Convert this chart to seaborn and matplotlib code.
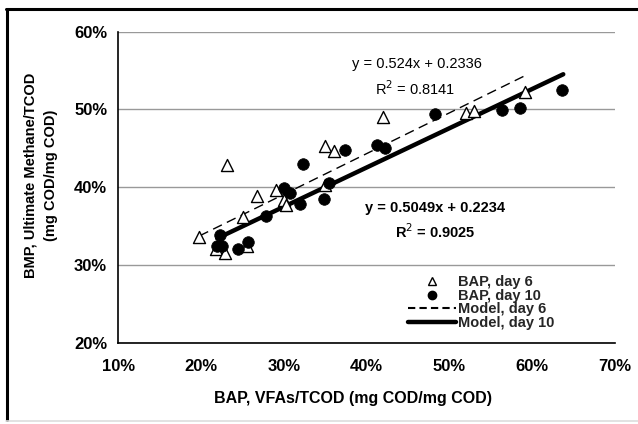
import numpy as np
import pandas as pd
import matplotlib
matplotlib.use("Agg")
import matplotlib.pyplot as plt
import seaborn as sns
from matplotlib.ticker import PercentFormatter, MultipleLocator
from matplotlib.lines import Line2D

# ---- data (fractions of TCOD) ----
day6_x = [0.197, 0.218, 0.229, 0.231, 0.251, 0.256, 0.268, 0.290, 0.300, 0.302, 0.350, 0.350, 0.360, 0.420, 0.520, 0.530, 0.591]
day6_y = [0.336, 0.320, 0.316, 0.428, 0.362, 0.325, 0.389, 0.396, 0.384, 0.377, 0.453, 0.403, 0.447, 0.490, 0.496, 0.498, 0.523]
day10_x = [0.223, 0.219, 0.225, 0.245, 0.257, 0.279, 0.300, 0.308, 0.319, 0.323, 0.349, 0.354, 0.374, 0.412, 0.422, 0.482, 0.563, 0.585, 0.636]
day10_y = [0.339, 0.324, 0.324, 0.320, 0.329, 0.363, 0.399, 0.392, 0.379, 0.430, 0.385, 0.405, 0.448, 0.454, 0.450, 0.494, 0.499, 0.502, 0.525]

model6_slope, model6_icpt = 0.524, 0.2336
model10_slope, model10_icpt = 0.5049, 0.2234
model6_xrange = [0.198, 0.591]
model10_xrange = [0.2195, 0.6375]

eq6_text = ["y = 0.524x + 0.2336", "R$^2$ = 0.8141"]
eq10_text = ["y = 0.5049x + 0.2234", "R$^2$ = 0.9025"]
legend_labels = ["BAP, day 6", "BAP, day 10", "Model, day 6", "Model, day 10"]
x_label = "BAP, VFAs/TCOD (mg COD/mg COD)"
y_label_lines = ["BMP, Ultimate Methane/TCOD", "(mg COD/mg COD)"]

sns.set_theme(style="white")
plt.rcParams['font.family'] = ['Liberation Sans', 'DejaVu Sans']

fig = plt.figure(figsize=(6.38, 4.24), dpi=100)
W, H = 638, 424
ax = fig.add_axes([118.3 / W, 1 - 342.7 / H, (615 - 118.3) / W, (342.7 - 31.7) / H])

pts6 = pd.DataFrame({"x": day6_x, "y": day6_y})
pts10 = pd.DataFrame({"x": day10_x, "y": day10_y})
m6x = np.array(model6_xrange)
m10x = np.array(model10_xrange)
line6 = pd.DataFrame({"x": m6x, "y": model6_slope * m6x + model6_icpt})
line10 = pd.DataFrame({"x": m10x, "y": model10_slope * m10x + model10_icpt})

sns.lineplot(data=line6, x="x", y="y", ax=ax, color="black", lw=1.0,
             dashes=False, linestyle=(0, (7, 4)), zorder=3)
sns.lineplot(data=line10, x="x", y="y", ax=ax, color="black", lw=3.2, zorder=3)
sns.scatterplot(data=pts6, x="x", y="y", ax=ax, marker="^", s=75,
                facecolor="white", edgecolor="black", linewidth=1.0, zorder=4)
sns.scatterplot(data=pts10, x="x", y="y", ax=ax, marker="o", s=70,
                color="black", edgecolor="black", linewidth=0.5, zorder=5)

ax.set_xlim(0.10, 0.70)
ax.set_ylim(0.20, 0.60)
ax.xaxis.set_major_locator(MultipleLocator(0.10))
ax.yaxis.set_major_locator(MultipleLocator(0.10))
ax.xaxis.set_major_formatter(PercentFormatter(1.0, decimals=0))
ax.yaxis.set_major_formatter(PercentFormatter(1.0, decimals=0))
ax.set_xlabel("")
ax.set_ylabel("")

ax.yaxis.grid(True, color="#999999", lw=1.0)
ax.xaxis.grid(False)
ax.set_axisbelow(True)
for s in ["top", "right"]:
    ax.spines[s].set_visible(False)
for s in ["left", "bottom"]:
    ax.spines[s].set_color("black")
    ax.spines[s].set_linewidth(1.2)

ax.tick_params(axis="both", which="major", direction="out", length=4, width=1.0,
               color="black", labelcolor="black")
ax.tick_params(axis="x", pad=8)
ax.tick_params(axis="y", pad=4)
for lab in ax.get_xticklabels() + ax.get_yticklabels():
    lab.set_fontweight("bold")
    lab.set_fontsize(12)

# equations
ax.text(0.461, 0.559, eq6_text[0], ha="center", va="center", fontsize=10.5, color="black")
ax.text(0.459, 0.527, eq6_text[1], ha="center", va="center", fontsize=10.5, color="black")
ax.text(0.483, 0.373, eq10_text[0], ha="center", va="center", fontsize=10.5,
        fontweight="bold", color="black")
ax.text(0.483, 0.343, eq10_text[1], ha="center", va="center", fontsize=10.5,
        fontweight="bold", color="black")

# legend
handles = [
    Line2D([], [], marker="^", ls="none", markerfacecolor="white", markeredgecolor="black", markersize=6),
    Line2D([], [], marker="o", ls="none", color="black", markersize=6),
    Line2D([], [], color="black", lw=1.5, linestyle=(0, (3.5, 2))),
    Line2D([], [], color="black", lw=3.2),
]
leg = ax.legend(handles, legend_labels, loc="upper left",
                bbox_to_anchor=((408 - 118.3) / (615 - 118.3), 1 - (275 - 31.7) / 311),
                frameon=False, prop={"weight": "bold", "size": 10.5},
                handlelength=3.3, handletextpad=0.15, labelspacing=-0.02,
                borderpad=0, borderaxespad=0)

# axis labels
fig.text(353 / W, 1 - 398 / H, x_label, ha="center", va="center",
         fontsize=11.5, fontweight="bold", color="black")
fig.text(31 / W, 1 - 175 / H, y_label_lines[0], ha="center", va="center",
         rotation=90, fontsize=10.5, fontweight="bold", color="black")
fig.text(51 / W, 1 - 175 / H, y_label_lines[1], ha="center", va="center",
         rotation=90, fontsize=10.5, fontweight="bold", color="black")

# figure border (left/top black, bottom light gray)
fig.add_artist(Line2D([6.5 / W, 6.5 / W], [1 - 9 / H, 1 - 420 / H], color="black", lw=2.2,
                      transform=fig.transFigure))
fig.add_artist(Line2D([5.5 / W, 1.0], [1 - 9 / H, 1 - 9 / H], color="black", lw=2.2,
                      transform=fig.transFigure))
fig.add_artist(Line2D([5.5 / W, 1.0], [1 - 420.5 / H, 1 - 420.5 / H], color="#dddddd", lw=1.2,
                      transform=fig.transFigure))

fig.savefig("out.png", dpi=100)
